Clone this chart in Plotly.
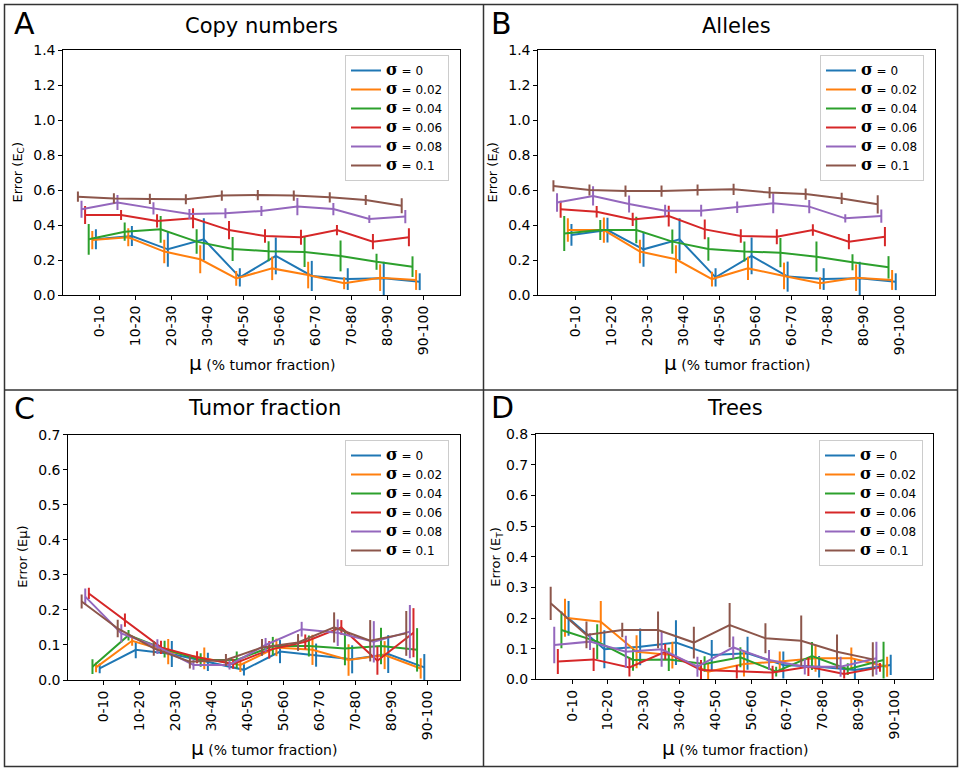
import plotly.graph_objects as go

# ---------------- data ----------------
mu_labels = ["0-10", "10-20", "20-30", "30-40", "40-50",
             "50-60", "60-70", "70-80", "80-90", "90-100"]
sigma_labels = ["0", "0.02", "0.04", "0.06", "0.08", "0.1"]

# Copy numbers (E_C): rows = sigma, cols = mu bins
copy_mean = [
    [0.318, 0.337, 0.261, 0.318, 0.101, 0.223, 0.109, 0.091, 0.095, 0.076],
    [0.314, 0.330, 0.248, 0.204, 0.095, 0.152, 0.114, 0.067, 0.099, 0.086],
    [0.318, 0.362, 0.375, 0.305, 0.263, 0.250, 0.246, 0.223, 0.190, 0.162],
    [0.457, 0.457, 0.423, 0.438, 0.371, 0.337, 0.330, 0.371, 0.305, 0.330],
    [0.490, 0.528, 0.495, 0.463, 0.467, 0.480, 0.505, 0.491, 0.434, 0.448],
    [0.562, 0.552, 0.549, 0.547, 0.568, 0.571, 0.568, 0.558, 0.543, 0.510],
]
copy_err = [
    [0.057, 0.057, 0.100, 0.120, 0.052, 0.105, 0.086, 0.062, 0.095, 0.048],
    [0.052, 0.052, 0.067, 0.080, 0.042, 0.067, 0.076, 0.034, 0.076, 0.057],
    [0.088, 0.052, 0.076, 0.070, 0.069, 0.057, 0.086, 0.088, 0.046, 0.059],
    [0.052, 0.029, 0.038, 0.057, 0.052, 0.038, 0.043, 0.029, 0.043, 0.052],
    [0.048, 0.043, 0.035, 0.029, 0.029, 0.029, 0.049, 0.035, 0.022, 0.038],
    [0.029, 0.029, 0.029, 0.029, 0.029, 0.029, 0.029, 0.029, 0.029, 0.043],
]

# Alleles (E_A)
allele_mean = [
    [0.343, 0.371, 0.261, 0.318, 0.101, 0.223, 0.105, 0.091, 0.095, 0.076],
    [0.371, 0.371, 0.248, 0.204, 0.091, 0.152, 0.109, 0.067, 0.099, 0.086],
    [0.352, 0.371, 0.371, 0.305, 0.263, 0.248, 0.242, 0.219, 0.187, 0.158],
    [0.490, 0.476, 0.432, 0.451, 0.375, 0.337, 0.333, 0.371, 0.305, 0.333],
    [0.528, 0.566, 0.520, 0.482, 0.482, 0.501, 0.524, 0.505, 0.438, 0.451],
    [0.623, 0.600, 0.594, 0.594, 0.600, 0.604, 0.585, 0.577, 0.552, 0.518],
]
allele_err = [
    [0.062, 0.071, 0.100, 0.120, 0.052, 0.105, 0.086, 0.062, 0.095, 0.048],
    [0.067, 0.072, 0.067, 0.080, 0.042, 0.067, 0.076, 0.034, 0.076, 0.057],
    [0.100, 0.057, 0.076, 0.069, 0.067, 0.057, 0.083, 0.086, 0.046, 0.064],
    [0.048, 0.033, 0.038, 0.059, 0.057, 0.038, 0.043, 0.033, 0.043, 0.055],
    [0.053, 0.055, 0.048, 0.033, 0.033, 0.033, 0.057, 0.038, 0.024, 0.038],
    [0.032, 0.032, 0.032, 0.032, 0.032, 0.032, 0.032, 0.032, 0.032, 0.052],
]

# Tumor fraction (E_mu)
tumor_mean = [
    [0.033, 0.086, 0.074, 0.052, 0.029, 0.081, 0.071, 0.059, 0.074, 0.036],
    [0.036, 0.112, 0.081, 0.062, 0.043, 0.093, 0.086, 0.057, 0.071, 0.033],
    [0.038, 0.128, 0.088, 0.057, 0.057, 0.097, 0.097, 0.090, 0.097, 0.086],
    [0.247, 0.171, 0.093, 0.065, 0.046, 0.086, 0.109, 0.150, 0.055, 0.135],
    [0.238, 0.133, 0.095, 0.043, 0.043, 0.100, 0.145, 0.135, 0.109, 0.138],
    [0.224, 0.147, 0.090, 0.052, 0.057, 0.093, 0.107, 0.150, 0.112, 0.133],
]
tumor_err = [
    [0.014, 0.024, 0.037, 0.026, 0.016, 0.033, 0.033, 0.040, 0.054, 0.038],
    [0.014, 0.014, 0.036, 0.031, 0.020, 0.025, 0.043, 0.045, 0.040, 0.029],
    [0.021, 0.015, 0.024, 0.019, 0.024, 0.026, 0.030, 0.048, 0.052, 0.062],
    [0.016, 0.019, 0.019, 0.017, 0.014, 0.025, 0.021, 0.021, 0.040, 0.070],
    [0.023, 0.026, 0.021, 0.014, 0.013, 0.020, 0.021, 0.038, 0.059, 0.076],
    [0.020, 0.025, 0.021, 0.019, 0.017, 0.024, 0.024, 0.043, 0.059, 0.064],
]

# Trees (E_T)
tree_mean = [
    [0.199, 0.098, 0.106, 0.120, 0.079, 0.085, 0.047, 0.041, 0.030, 0.047],
    [0.201, 0.188, 0.090, 0.079, 0.025, 0.050, 0.058, 0.069, 0.069, 0.041],
    [0.161, 0.123, 0.063, 0.065, 0.050, 0.072, 0.025, 0.076, 0.033, 0.063],
    [0.058, 0.065, 0.039, 0.090, 0.030, 0.025, 0.022, 0.041, 0.017, 0.039],
    [0.112, 0.123, 0.090, 0.098, 0.041, 0.104, 0.063, 0.041, 0.041, 0.069],
    [0.248, 0.145, 0.161, 0.161, 0.120, 0.177, 0.134, 0.126, 0.090, 0.065],
]
tree_err = [
    [0.057, 0.062, 0.060, 0.073, 0.049, 0.054, 0.044, 0.035, 0.033, 0.033],
    [0.062, 0.068, 0.054, 0.044, 0.025, 0.041, 0.033, 0.044, 0.035, 0.033],
    [0.060, 0.057, 0.035, 0.038, 0.025, 0.033, 0.016, 0.046, 0.019, 0.060],
    [0.041, 0.038, 0.030, 0.025, 0.033, 0.022, 0.022, 0.030, 0.014, 0.014],
    [0.060, 0.027, 0.052, 0.057, 0.033, 0.036, 0.033, 0.025, 0.033, 0.054],
    [0.054, 0.044, 0.024, 0.060, 0.052, 0.072, 0.049, 0.082, 0.056, 0.056],
]

# ---------------- style / layout ----------------
W, H = 962, 771
FONT = "DejaVu Sans"
colors = ["#1f77b4", "#ff7f0e", "#2ca02c", "#d62728", "#9467bd", "#8c564b"]
offsets = [-0.1, -0.2, -0.3, -0.4, -0.5, -0.6]


def fx(p):
    return p / W


def fy(p):
    return 1 - p / H


XLABEL = "<span style='font-size:20px'>μ</span> (% tumor fraction)"
panels = [
    dict(letter="A", title="Copy numbers", mean=copy_mean, err=copy_err,
         ylab="Error (E<sub>C</sub>)", box=(63.3, 460, 50, 295),
         xr=[-1.006, 10.02], yr=[0, 1.4], dt=0.2,
         letter_xy=(24, 23), title_y=26, ylab_x=18, xlab_y=363, leg=(345, 55)),
    dict(letter="B", title="Alleles", mean=allele_mean, err=allele_err,
         ylab="Error (E<sub>A</sub>)", box=(538.3, 935, 50, 295),
         xr=[-1.02, 9.99], yr=[0, 1.4], dt=0.2,
         letter_xy=(501, 23), title_y=26, ylab_x=493, xlab_y=363, leg=(820, 55)),
    dict(letter="C", title="Tumor fraction", mean=tumor_mean, err=tumor_err,
         ylab="Error (Eμ)", box=(68.3, 460, 434.7, 680),
         xr=[-0.97, 9.89], yr=[0, 0.7], dt=0.1,
         letter_xy=(24, 408), title_y=408, ylab_x=22.5, xlab_y=748, leg=(345, 440)),
    dict(letter="D", title="Trees", mean=tree_mean, err=tree_err,
         ylab="Error (E<sub>T</sub>)", box=(536, 933.3, 434.3, 679.3),
         xr=[-1.01, 10.09], yr=[0, 0.8], dt=0.1,
         letter_xy=(503, 407), title_y=408, ylab_x=497, xlab_y=748, leg=(819, 440)),
]

fig = go.Figure()
annotations = []
layout = dict(
    width=W, height=H, margin=dict(l=0, r=0, t=0, b=0),
    paper_bgcolor="white", plot_bgcolor="white",
    font=dict(family=FONT, size=13, color="black"),
    showlegend=True,
)

for p_i, p in enumerate(panels):
    n = "" if p_i == 0 else str(p_i + 1)
    xa, ya = "x" + n, "y" + n
    leg_name = "legend" + n
    x0, x1, y0, y1 = p["box"]
    axis_common = dict(showline=True, mirror=True, linecolor="black", linewidth=1,
                       ticks="outside", ticklen=4, tickwidth=1, tickcolor="black",
                       showgrid=False, zeroline=False, automargin=False,
                       tickfont=dict(family=FONT, size=14, color="black"))
    layout["xaxis" + n] = dict(axis_common, domain=[fx(x0), fx(x1)], range=p["xr"],
                               anchor=ya, tickmode="array",
                               tickvals=list(range(len(mu_labels))),
                               ticktext=mu_labels, tickangle=-90)
    layout["yaxis" + n] = dict(axis_common, domain=[fy(y1), fy(y0)], range=p["yr"],
                               anchor=xa, tickmode="linear", tick0=0, dtick=p["dt"],
                               tickformat=".1f")
    lx, ly = p["leg"]
    layout[leg_name] = dict(x=fx(lx), y=fy(ly), xanchor="left", yanchor="top",
                            bgcolor="rgba(255,255,255,0.85)", bordercolor="#cccccc",
                            borderwidth=1, font=dict(family=FONT, size=12, color="black"),
                            tracegroupgap=0)

    for k, sig in enumerate(sigma_labels):
        xs = [i + offsets[k] for i in range(len(mu_labels))]
        fig.add_trace(go.Scatter(
            x=xs, y=p["mean"][k], xaxis=xa, yaxis=ya, mode="lines",
            line=dict(color=colors[k], width=2),
            error_y=dict(type="data", array=p["err"][k], visible=True,
                         thickness=2, width=0, color=colors[k]),
            name="<span style='font-family:DejaVu Serif;font-size:16px'><b>σ</b></span> = " + sig,
            legend=leg_name, showlegend=True,
        ))

    cx = (x0 + x1) / 2
    annotations += [
        dict(text=p["letter"], x=fx(p["letter_xy"][0]), y=fy(p["letter_xy"][1]),
             xref="paper", yref="paper", showarrow=False, xanchor="center", yanchor="middle",
             font=dict(family=FONT, size=30, color="black")),
        dict(text=p["title"], x=fx(cx), y=fy(p["title_y"]), xref="paper", yref="paper",
             showarrow=False, xanchor="center", yanchor="middle",
             font=dict(family=FONT, size=21, color="black")),
        dict(text=p["ylab"], x=fx(p["ylab_x"]), y=fy((y0 + y1) / 2), xref="paper",
             yref="paper", showarrow=False, xanchor="center", yanchor="middle",
             textangle=-90, font=dict(family=FONT, size=13, color="black")),
        dict(text=XLABEL, x=fx(cx), y=fy(p["xlab_y"]), xref="paper", yref="paper",
             showarrow=False, xanchor="center", yanchor="middle",
             font=dict(family=FONT, size=14, color="black")),
    ]

frame = dict(color="#333333", width=1.5)
layout["shapes"] = [
    dict(type="rect", xref="paper", yref="paper", x0=fx(4.5), x1=fx(957.5),
         y0=fy(766.5), y1=fy(4.5), line=frame, fillcolor="rgba(0,0,0,0)"),
    dict(type="line", xref="paper", yref="paper", x0=fx(483.5), x1=fx(483.5),
         y0=fy(766.5), y1=fy(4.5), line=frame),
    dict(type="line", xref="paper", yref="paper", x0=fx(4.5), x1=fx(957.5),
         y0=fy(390), y1=fy(390), line=frame),
]
layout["annotations"] = annotations
fig.update_layout(**layout)

fig.write_html("out.html")
